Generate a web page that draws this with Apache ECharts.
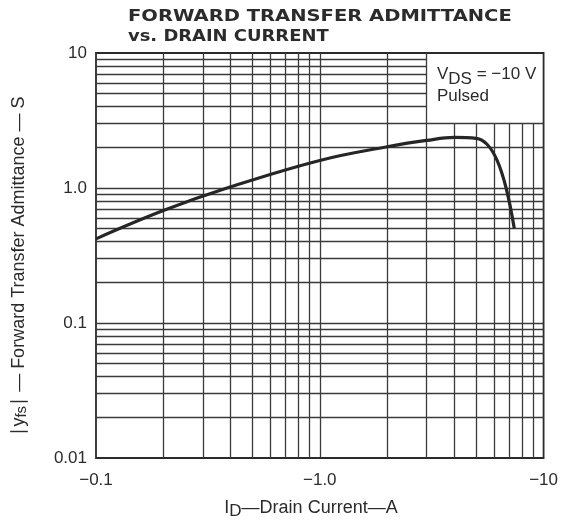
<!DOCTYPE html>
<html><head><meta charset="utf-8">
<script src="https://cdn.jsdelivr.net/npm/echarts@6/dist/echarts.min.js"></script>
<style>html,body{margin:0;padding:0;background:#fff}#c{width:561px;height:523px}</style>
</head><body><div id="c"></div>
<script>
// Data (|ID| in A, |yfs| in S)
const drainCurrent = [0.1, 0.2, 0.4, 1.0, 2.0, 3.0, 4.0, 5.0, 5.6, 6.2, 6.8, 7.4];
const admittance   = [0.42, 0.68, 1.02, 1.6, 2.02, 2.25, 2.37, 2.33, 2.1, 1.6, 1.0, 0.5];
const xTicks = [0.1, 1, 10];
const xTickLabels = ['\u22120.1', '\u22121.0', '\u221210'];
const yTicks = [0.01, 0.1, 1, 10];
const yTickLabels = ['0.01', '0.1', '1.0', '10'];
const minorMultipliers = [2, 3, 4, 5, 6, 7, 8, 9];
const legendCorner = [3, 3]; // lower-left corner of the blank legend cell (data units)

const X_MIN = 0.1, X_MAX = 10, Y_MIN = 0.01, Y_MAX = 10;
const INK = '#2b2b2b';

function gridValues(min, max) {
  const vals = [];
  for (let d = min; d < max * 0.999; d *= 10) {
    if (d > min * 1.001) vals.push(d);
    minorMultipliers.forEach(m => vals.push(+(d * m).toPrecision(6)));
  }
  return vals;
}
function lookup(ticks, labels, v) {
  for (let i = 0; i < ticks.length; i++) if (Math.abs(Math.log10(v / ticks[i])) < 1e-6) return labels[i];
  return '';
}

const segs = [];
gridValues(X_MIN, X_MAX).forEach(v => {
  const top = v > legendCorner[0] * 1.001 ? legendCorner[1] : Y_MAX;
  segs.push([{ coord: [v, Y_MIN] }, { coord: [v, top] }]);
});
gridValues(Y_MIN, Y_MAX).forEach(v => {
  const right = v > legendCorner[1] * 1.001 ? legendCorner[0] : X_MAX;
  segs.push([{ coord: [X_MIN, v] }, { coord: [right, v] }]);
});

const chart = echarts.init(document.getElementById('c'), null, { renderer: 'canvas' });
chart.setOption({
  animation: false,
  backgroundColor: '#ffffff',
  textStyle: { fontFamily: 'Liberation Sans, Arial, sans-serif', color: INK },
  grid: { left: 96, right: 13, top: 53, bottom: 65, show: true, borderColor: INK, borderWidth: 1.8, backgroundColor: 'transparent' },
  xAxis: {
    type: 'log', logBase: 10, min: X_MIN, max: X_MAX,
    axisLine: { show: false }, axisTick: { show: false }, splitLine: { show: false },
    axisLabel: { fontSize: 17, color: INK, margin: 14, formatter: v => lookup(xTicks, xTickLabels, v) }
  },
  yAxis: {
    type: 'log', logBase: 10, min: Y_MIN, max: Y_MAX,
    axisLine: { show: false }, axisTick: { show: false }, splitLine: { show: false },
    axisLabel: { fontSize: 17, color: INK, margin: 9, formatter: v => lookup(yTicks, yTickLabels, v) }
  },
  graphic: [
    { type: 'text', x: 128, y: 9, scaleX: 1.22, style: { text: 'FORWARD TRANSFER ADMITTANCE', font: 'bold 16px "DejaVu Sans"', fill: INK } },
    { type: 'text', x: 128, y: 29, scaleX: 1.12, style: { text: 'vs. DRAIN CURRENT', font: 'bold 16px "DejaVu Sans"', fill: INK } },
    { type: 'text', left: 437, top: 66, style: {
        text: '{a|V}{s|DS}{a| = \u221210 V}\n{a|Pulsed}', fill: INK,
        rich: { a: { fontSize: 17, fontFamily: 'Liberation Sans', lineHeight: 22, verticalAlign: 'top' },
                s: { fontSize: 17, fontFamily: 'Liberation Sans', lineHeight: 22, verticalAlign: 'top', padding: [5, 0, 0, 0] } } } },
    { type: 'text', x: 311, y: 508, style: {
        text: '{a|I}{s|D}{a|\u2014Drain Current\u2014A}', fill: INK, align: 'center', verticalAlign: 'middle',
        rich: { a: { fontSize: 18, fontFamily: 'Liberation Sans' }, s: { fontSize: 17, fontFamily: 'Liberation Sans', padding: [6, 0, 0, 0] } } } },
    { type: 'text', x: 19, y: 266, rotation: Math.PI / 2, style: {
        text: '{a|\u2223y}{s|fs}{a|\u2223 \u2014 Forward Transfer Admittance \u2014 S}', fill: INK, align: 'center', verticalAlign: 'middle',
        rich: { a: { fontSize: 18, fontFamily: 'Liberation Sans' }, s: { fontSize: 15, fontFamily: 'Liberation Sans', padding: [5, 0, 0, 0] } } } }
  ],
  series: [
    {
      type: 'line', data: [], silent: true,
      markLine: { silent: true, symbol: ['none', 'none'], label: { show: false },
        lineStyle: { color: '#3a3a3a', width: 1.3, type: 'solid' }, emphasis: { disabled: true }, data: segs }
    },
    {
      type: 'line', name: 'yfs', z: 10,
      data: drainCurrent.map((x, i) => [x, admittance[i]]),
      smooth: 0.4, showSymbol: false, symbol: 'none',
      lineStyle: { color: '#262626', width: 3.2 }
    }
  ]
});
</script></body></html>
